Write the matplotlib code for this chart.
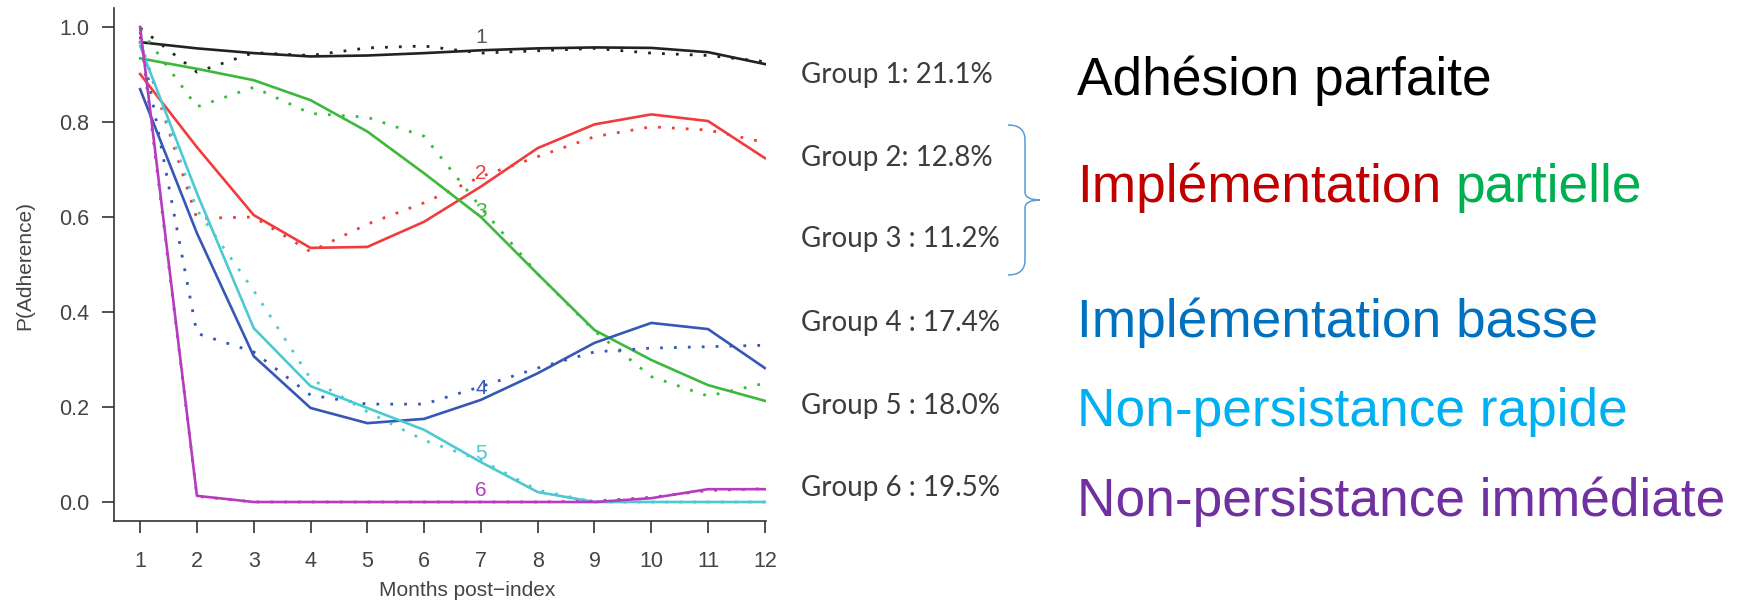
import numpy as np
import matplotlib
matplotlib.use("Agg")
import matplotlib.pyplot as plt
from matplotlib.path import Path
from matplotlib.patches import PathPatch

months = [1, 2, 3, 4, 5, 6, 7, 8, 9, 10, 11, 12]

# solid = fitted trajectory, dotted = observed
g1_fit = [0.968, 0.955, 0.945, 0.938, 0.940, 0.945, 0.951, 0.955, 0.957, 0.956, 0.947, 0.922]
g1_obs = [0.998, 0.905, 0.946, 0.940, 0.956, 0.960, 0.945, 0.950, 0.955, 0.945, 0.940, 0.927]
g2_fit = [0.901, 0.747, 0.604, 0.535, 0.537, 0.590, 0.664, 0.745, 0.795, 0.816, 0.802, 0.724]
g2_obs = [0.970, 0.597, 0.600, 0.527, 0.585, 0.630, 0.685, 0.727, 0.769, 0.790, 0.783, 0.757]
g3_fit = [0.934, 0.912, 0.888, 0.846, 0.780, 0.692, 0.600, 0.480, 0.362, 0.299, 0.246, 0.213]
g3_obs = [0.995, 0.832, 0.873, 0.818, 0.810, 0.770, 0.620, 0.480, 0.360, 0.264, 0.223, 0.250]
g4_fit = [0.869, 0.566, 0.307, 0.198, 0.166, 0.175, 0.215, 0.271, 0.335, 0.377, 0.364, 0.282]
g4_obs = [0.980, 0.355, 0.316, 0.225, 0.206, 0.206, 0.243, 0.282, 0.316, 0.324, 0.327, 0.330]
g5_fit = [0.960, 0.650, 0.366, 0.244, 0.198, 0.152, 0.084, 0.021, 0.0, 0.0, 0.0, 0.0]
g5_obs = [0.970, 0.615, 0.445, 0.260, 0.190, 0.130, 0.088, 0.025, 0.0, 0.0, 0.0, 0.0]
g6_fit = [1.0, 0.013, 0.0, 0.0, 0.0, 0.0, 0.0, 0.0, 0.0, 0.008, 0.027, 0.027]
g6_obs = [0.990, 0.012, 0.0, 0.0, 0.0, 0.0, 0.0, 0.0, 0.002, 0.010, 0.024, 0.028]

fits = [g1_fit, g2_fit, g3_fit, g4_fit, g5_fit, g6_fit]
obss = [g1_obs, g2_obs, g3_obs, g4_obs, g5_obs, g6_obs]
line_cols = ["#222222", "#F03C3C", "#3CB93C", "#3557B5", "#4DC9D1", "#B53CBF"]
num_labels = ["1", "2", "3", "4", "5", "6"]
num_label_y = [0.977, 0.692, 0.611, 0.240, 0.103, 0.025]

group_texts = ["Group 1: 21.1%", "Group 2: 12.8%", "Group 3 : 11.2%",
               "Group 4 : 17.4%", "Group 5 : 18.0%", "Group 6 : 19.5%"]
big_texts = ["Adhésion parfaite", "Implémentation", "Implémentation basse",
             "Non-persistance rapide", "Non-persistance immédiate"]
big_cols = ["#000000", "#C00000", "#0070C0", "#00B0F0", "#7030A0"]

W, H = 1737, 600
fig = plt.figure(figsize=(W / 100, H / 100), dpi=100)
ax = fig.add_axes([114 / W, 1 - 521 / H, (766 - 114) / W, (521 - 8) / H])

for f, o, c in zip(fits, obss, line_cols):
    ax.plot(months, f, color=c, lw=1.9, solid_joinstyle="round")
    ax.plot(months, o, color=c, lw=2.0, linestyle=(0, (1, 4)), dash_capstyle="butt")

for lab, yv, c in zip(num_labels, num_label_y, line_cols):
    col = "#555555" if lab == "1" else c
    ax.text(7, yv, lab, color=col, fontsize=15, ha="center", va="center",
            family="Liberation Sans")

ax.set_xlim(0.54, 12.02)
ax.set_ylim(-0.04, 1.04)
ax.set_xticks(months)
ax.set_yticks([0.0, 0.2, 0.4, 0.6, 0.8, 1.0])
ax.set_yticklabels(["0.0", "0.2", "0.4", "0.6", "0.8", "1.0"])
for s in ["top", "right"]:
    ax.spines[s].set_visible(False)
for s in ["left", "bottom"]:
    ax.spines[s].set_color("#333333")
    ax.spines[s].set_linewidth(1.2)
ax.tick_params(axis="both", direction="out", length=8.6, width=1.2, color="#333333",
               labelcolor="#444444", labelsize=15.5)
ax.tick_params(axis="y", pad=9)
ax.tick_params(axis="x", pad=13)
for t in ax.get_xticklabels() + ax.get_yticklabels():
    t.set_family("Liberation Sans")

fig.text(25 / W, 1 - 265 / H, "P(Adherence)", rotation=90, ha="center", va="center",
         fontsize=15, color="#444444", family="Liberation Sans")
fig.text(467 / W, 1 - 590 / H, "Months post\u2212index", ha="center", va="center",
         fontsize=15, color="#444444", family="Liberation Sans")

# overlay in pixel coordinates for the annotation side
ov = fig.add_axes([0, 0, 1, 1], facecolor="none")
ov.set_xlim(0, W)
ov.set_ylim(H, 0)
ov.axis("off")

group_base = [83, 166, 247, 331, 414, 496]
for t, yb in zip(group_texts, group_base):
    ov.text(801, yb, t, fontsize=20, color="#3c3c3c", ha="left", va="baseline",
            family="Lato")

big_base = [95, 202, 337, 426, 516]
big_items = []
for t, yb, c in zip(big_texts, big_base, big_cols):
    big_items.append(ov.text(1077, yb, t, fontsize=38.3, color=c, ha="left",
                             va="baseline", family="Liberation Sans"))

fig.canvas.draw()
bb = big_items[1].get_window_extent().transformed(ov.transData.inverted())
ov.text(bb.x1 + 0.278 * 53, 202, "partielle", fontsize=38.3, color="#00B050",
        ha="left", va="baseline", family="Liberation Sans")

# curly bracket joining groups 2 and 3
verts = [(1008, 125), (1025, 125), (1025, 140),
         (1025, 192),
         (1025, 200), (1040, 200),
         (1025, 200), (1025, 208),
         (1025, 260),
         (1025, 275), (1008, 275)]
codes = [Path.MOVETO, Path.CURVE3, Path.CURVE3,
         Path.LINETO,
         Path.CURVE3, Path.CURVE3,
         Path.CURVE3, Path.CURVE3,
         Path.LINETO,
         Path.CURVE3, Path.CURVE3]
ov.add_patch(PathPatch(Path(verts, codes), fill=False, edgecolor="#5B9BD5", lw=1.1))

fig.savefig("out.png", dpi=100)
